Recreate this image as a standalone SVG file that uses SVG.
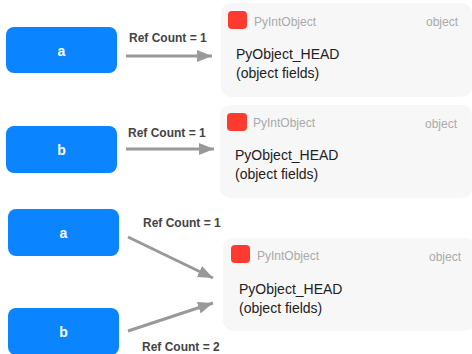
<svg xmlns="http://www.w3.org/2000/svg" width="472" height="354" viewBox="0 0 472 354">
<defs>
<style>
.var rect{fill:#0a84ff}
.var text{fill:#fff;font:bold 14px "Liberation Sans",Arial,sans-serif;text-anchor:middle}
.card .bg{fill:#f7f7f7}
.card .ic{fill:#ff3b30}
.card .t{fill:#aaaaaa;font:12px "Liberation Sans",Arial,sans-serif}
.card .k{fill:#aaaaaa;font:12px "Liberation Sans",Arial,sans-serif;text-anchor:end}
.card .b{fill:#222;font:14px "Liberation Sans",Arial,sans-serif}
.lbl{fill:#444;font:bold 12px "Liberation Sans",Arial,sans-serif}
.edge{stroke:#999;stroke-width:3;fill:none;marker-end:url(#ah)}
</style>
<marker id="ah" markerUnits="userSpaceOnUse" markerWidth="16" markerHeight="12" refX="15" refY="6" orient="auto">
<path d="M0,0 L15,6 L0,12 Z" fill="#999"/>
</marker>
</defs>
<g id="card1" class="card">
<rect class="bg" x="221" y="3" width="251" height="94" rx="10"/>
<rect class="ic" x="228" y="11" width="19" height="18" rx="4"/>
<text class="t" x="254" y="26">PyIntObject</text>
<text class="k" x="458" y="26">object</text>
<text class="b" x="236" y="59">PyObject_HEAD</text>
<text class="b" x="236" y="78">(object fields)</text>
</g>
<g id="card2" class="card">
<rect class="bg" x="220" y="105" width="252" height="93" rx="10"/>
<rect class="ic" x="227" y="113" width="20" height="18" rx="4"/>
<text class="t" x="253" y="127">PyIntObject</text>
<text class="k" x="457" y="128">object</text>
<text class="b" x="235" y="160">PyObject_HEAD</text>
<text class="b" x="235" y="179">(object fields)</text>
</g>
<g id="card3" class="card">
<rect class="bg" x="223" y="238" width="252" height="93" rx="10"/>
<rect class="ic" x="231" y="245" width="19" height="18" rx="4"/>
<text class="t" x="257" y="260">PyIntObject</text>
<text class="k" x="461" y="261">object</text>
<text class="b" x="239" y="294">PyObject_HEAD</text>
<text class="b" x="239" y="313">(object fields)</text>
</g>
<g id="a1" class="var"><rect x="6" y="27" width="111" height="46" rx="8"/><text x="61.5" y="56">a</text></g>
<g id="b1" class="var"><rect x="6" y="126" width="111" height="47" rx="8"/><text x="61.5" y="155">b</text></g>
<g id="a2" class="var"><rect x="8" y="209" width="111" height="47" rx="8"/><text x="63.5" y="238">a</text></g>
<g id="b2" class="var"><rect x="8" y="308" width="111" height="47" rx="8"/><text x="63.5" y="337">b</text></g>
<g id="connectors">
<line class="edge" x1="126" y1="56" x2="212" y2="56"/>
<line class="edge" x1="126" y1="149" x2="214" y2="149"/>
<line class="edge" x1="128" y1="237" x2="213" y2="278"/>
<line class="edge" x1="128" y1="331" x2="213" y2="303"/>
<text class="lbl" x="129" y="42">Ref Count = 1</text>
<text class="lbl" x="128" y="137">Ref Count = 1</text>
<text class="lbl" x="143" y="227">Ref Count = 1</text>
<text class="lbl" x="142" y="351">Ref Count = 2</text>
</g>
</svg>
